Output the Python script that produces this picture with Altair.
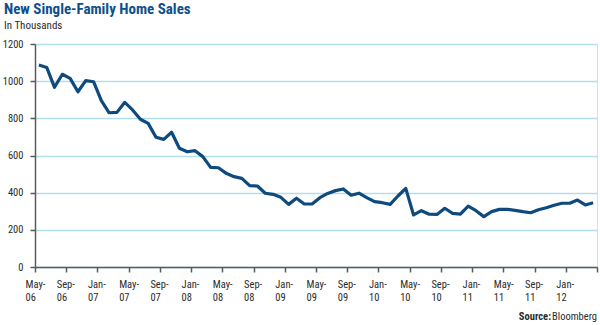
import json
import altair as alt
import pandas as pd

# Monthly new single-family home sales (thousands), May-06 .. Apr-12
sales = [1087, 1074, 967, 1037, 1015, 943, 1003, 997, 895, 830, 832, 886,
         845, 795, 773, 698, 687, 725, 639, 620, 626, 594, 536, 534,
         504, 486, 477, 438, 436, 397, 391, 375, 337, 370, 339, 339,
         373, 396, 411, 420, 386, 397, 373, 352, 346, 337, 382, 423,
         280, 303, 284, 283, 316, 289, 285, 328, 303, 271, 298, 310,
         310, 305, 298, 292, 308, 319, 332, 343, 343, 360, 334, 346]

tick_labels = ["May-06", "Sep-06", "Jan-07", "May-07", "Sep-07", "Jan-08",
               "May-08", "Sep-08", "Jan-09", "May-09", "Sep-09", "Jan-10",
               "May-10", "Sep-10", "Jan-11", "May-11", "Sep-11", "Jan-12", ""]
y_ticks = [0, 200, 400, 600, 800, 1000, 1200]

months = pd.date_range("2006-05-01", periods=len(sales), freq="MS").strftime("%b-%y").tolist()
df = pd.DataFrame({
    "month": months,
    "idx": [i + 0.5 for i in range(len(sales))],
    "sales": sales,
})

FONT = "Roboto Condensed"
LINE = "#0f4a7e"
TITLE = "#0f4f8c"
GRID = "#aedfeb"
AXIS = "#5a5a5a"
TXT = "#2b2b2b"

L = json.dumps(tick_labels)
label_expr = f"[slice({L}[round(datum.value/4)], 0, 4), slice({L}[round(datum.value/4)], 4)]"

line = alt.Chart(df).mark_line(color=LINE, strokeWidth=3.2, strokeJoin="round").encode(
    x=alt.X("idx:Q",
            scale=alt.Scale(domain=[0, 72], nice=False, zero=False),
            axis=alt.Axis(values=list(range(0, 73, 4)), labelExpr=label_expr,
                          title=None, grid=False, tickSize=5, tickColor=AXIS,
                          tickWidth=1.5, domainColor=AXIS, domainWidth=1.5,
                          labelAlign="left", labelOffset=-10, labelPadding=7,
                          labelFont=FONT, labelFontSize=10.5, labelColor=TXT,
                          labelLineHeight=13, labelBaseline="top",
                          labelOverlap=False, labelFlush=False)),
    y=alt.Y("sales:Q",
            scale=alt.Scale(domain=[0, 1200], nice=False),
            axis=alt.Axis(values=y_ticks, format="d", title=None, grid=True,
                          gridColor=GRID, gridWidth=1.5, tickSize=5, tickColor=AXIS,
                          tickWidth=1.5, domainColor=AXIS, domainWidth=1.5,
                          labelPadding=7, labelFont=FONT, labelFontSize=10.5,
                          labelColor=TXT)),
)

src_bold = alt.Chart(pd.DataFrame({"t": ["Source:"]})).mark_text(
    font=FONT, fontSize=10.5, fontWeight="bold", color=TXT, align="right",
    baseline="alphabetic").encode(
    x=alt.value(516), y=alt.value(276), text="t:N")

src_name = alt.Chart(pd.DataFrame({"t": ["Bloomberg"]})).mark_text(
    font=FONT, fontSize=10.5, color=TXT, align="right",
    baseline="alphabetic").encode(
    x=alt.value(562), y=alt.value(276), text="t:N")

chart = alt.layer(line, src_bold, src_name).properties(
    width=562, height=223,
    autosize="none",
    padding={"left": 35, "top": 44, "right": 3, "bottom": 58},
    title=alt.TitleParams(
        text="New Single-Family Home Sales",
        subtitle="In Thousands",
        anchor="start", frame="group", dx=-31, offset=8,
        font=FONT, fontSize=15, fontWeight="bold", color=TITLE,
        subtitleFont=FONT, subtitleFontSize=11, subtitleColor=TXT,
        subtitlePadding=3),
).configure_view(stroke=None).configure(background="white")

chart.save("out.html", embed_options={"renderer": "svg", "actions": False})
